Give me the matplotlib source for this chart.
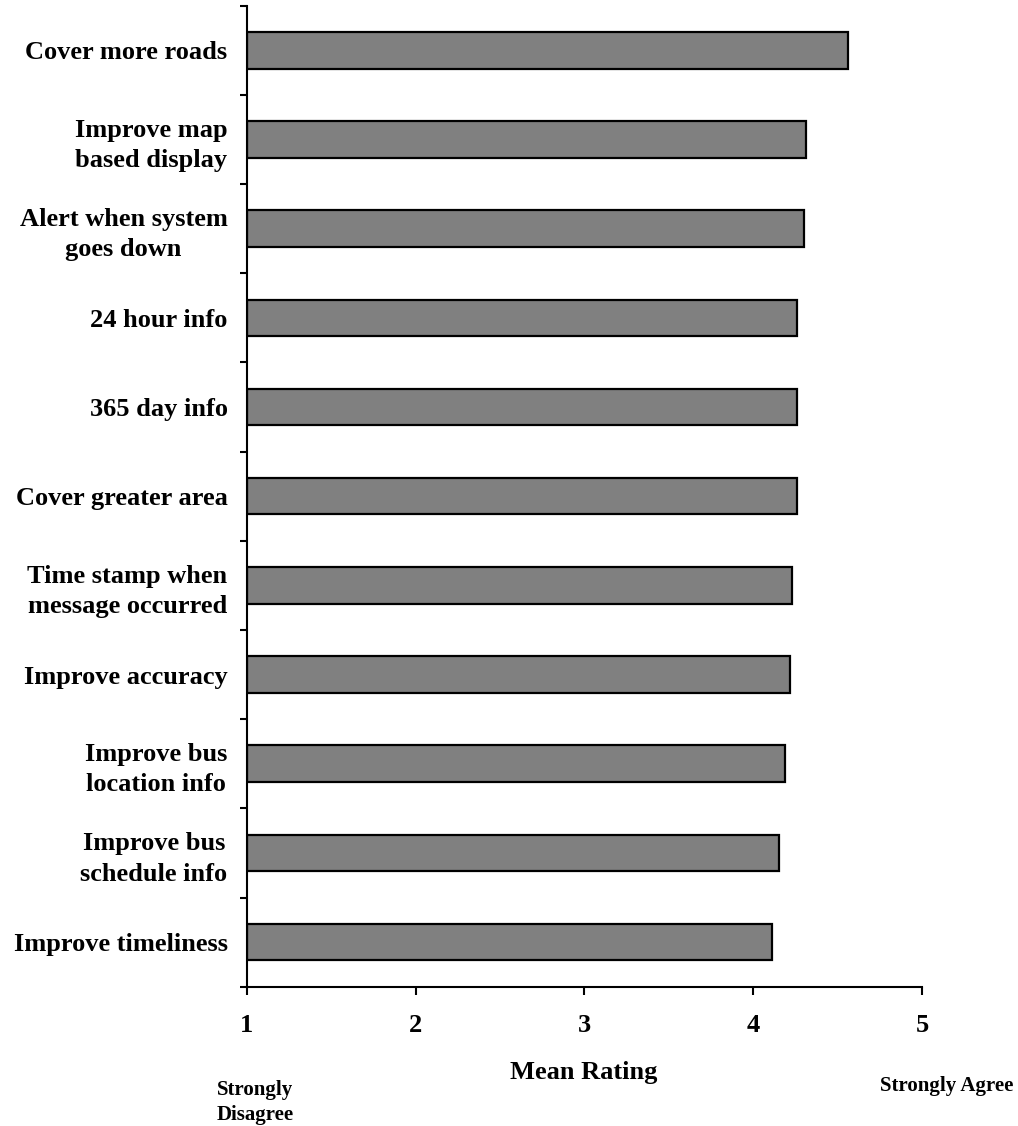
import numpy as np
import matplotlib.pyplot as plt

labels = ['Cover more roads', 'Improve map\nbased display', 'Alert when system\ngoes down',
          '24 hour info', '365 day info', 'Cover greater area',
          'Time stamp when\nmessage occurred', 'Improve accuracy',
          'Improve bus\nlocation info', 'Improve bus\nschedule info', 'Improve timeliness']
ratings = [4.56, 4.31, 4.30, 4.26, 4.26, 4.26, 4.23, 4.22, 4.19, 4.15, 4.11]
xticks = [1, 2, 3, 4, 5]

plt.rcParams['font.family'] = ['Liberation Serif', 'DejaVu Serif']
plt.rcParams['font.weight'] = 'bold'

fig = plt.figure(figsize=(10.18, 11.26), dpi=100)
ax = fig.add_axes([0.2426, 0.1237, 0.9057 - 0.2426, 0.995 - 0.1237])

ypos = np.arange(len(labels))[::-1]
ax.barh(ypos, [r - 1 for r in ratings], left=1, height=0.41,
        color='#808080', edgecolor='black', linewidth=1.6)

ax.set_xlim(1, 5)
ax.set_ylim(-0.5, len(labels) - 0.5)
ax.set_xticks(xticks)
ax.set_xticklabels([str(t) for t in xticks], fontsize=19, fontweight='bold')
ax.set_yticks(ypos)
ax.set_yticklabels(labels, fontsize=19, fontweight='bold', multialignment='center',
                   linespacing=1.4)
ax.set_yticks(np.arange(-0.5, len(labels)), minor=True)
ax.tick_params(axis='y', which='major', length=0, pad=14)
ax.tick_params(axis='y', which='minor', length=5, width=1.5, direction='out')
ax.tick_params(axis='x', length=6, width=1.5, pad=14)

for s in ['top', 'right']:
    ax.spines[s].set_visible(False)
for s in ['left', 'bottom']:
    ax.spines[s].set_linewidth(1.5)

fig.text(584 / 1018, 1 - 1073 / 1126, 'Mean Rating', ha='center', va='center',
         fontsize=19, fontweight='bold')
fig.text(217 / 1018, 1 - 1080 / 1126, 'Strongly\nDisagree', ha='left', va='top',
         fontsize=15, fontweight='bold', linespacing=1.35)
fig.text(880 / 1018, 1 - 1076 / 1126, 'Strongly Agree', ha='left', va='top',
         fontsize=15, fontweight='bold')

fig.savefig('out.png', dpi=100)
